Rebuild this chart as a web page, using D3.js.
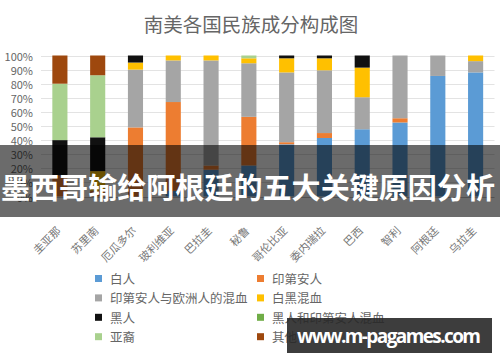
<!DOCTYPE html>
<html lang="zh">
<head>
<meta charset="utf-8">
<script src="https://cdnjs.cloudflare.com/ajax/libs/d3/7.8.5/d3.min.js"></script>
<style>
  body { margin: 0; background: #fff; }
  svg { display: block; font-family: "Noto Sans CJK SC", "Noto Sans", sans-serif; }
</style>
</head>
<body>
<svg width="500" height="362"></svg>
<script>
// countries, left to right
var countries = ["圭亚那", "苏里南", "厄瓜多尔", "玻利维亚", "巴拉圭", "秘鲁", "哥伦比亚", "委内瑞拉", "巴西", "智利", "阿根廷", "乌拉圭"];

// shares in percent, stacked bottom -> top in this order
var white   = [0, 0, 0, 4, 19, 22, 37, 41.5, 47.7, 52.5, 85.5, 88];
var indian  = [15, 4, 49, 63, 3, 34.5, 1.5, 3.5, 0, 3, 0, 0];
var mestizo = [0, 0, 41, 29.5, 74.5, 38, 49.5, 44.5, 22.7, 44.5, 14.5, 8];
var mulatto = [0, 14, 5, 3.5, 3.5, 3.5, 10, 8.5, 21, 0, 0, 4];
var black   = [25, 24, 5, 0, 0, 0, 2, 2, 8.6, 0, 0, 0];
var zambo   = [0, 0, 0, 0, 0, 0, 0, 0, 0, 0, 0, 0];
var asian   = [40, 44, 0, 0, 0, 2, 0, 0, 0, 0, 0, 0];
var other   = [20, 14, 0, 0, 0, 0, 0, 0, 0, 0, 0, 0];

var seriesNames = ["白人", "印第安人", "印第安人与欧洲人的混血", "白黑混血", "黑人", "黑人和印第安人混血", "亚裔", "其他"];
var yTicks = [0, 10, 20, 30, 40, 50, 60, 70, 80, 90, 100];

var colors = ["#5b9bd5", "#ed7d31", "#a5a5a5", "#ffc000", "#111111", "#70ad47", "#a9d18e", "#9e480e"];
var seriesData = [white, indian, mestizo, mulatto, black, zambo, asian, other];

var rows = countries.map(function(c, i) {
    var r = { country: c };
    seriesNames.forEach(function(s, j) { r[s] = seriesData[j][i]; });
    return r;
});

var svg = d3.select("svg");

var x = d3.scaleBand().domain(countries).range([41, 494.5]).paddingInner(0.6).paddingOuter(0.3);
var y = d3.scaleLinear().domain([0, 100]).range([196.5, 55.5]);

// title
svg.append("text")
    .attr("x", 251).attr("y", 23)
    .attr("text-anchor", "middle")
    .attr("dominant-baseline", "central")
    .attr("fill", "#666")
    .style("font-size", "19.5px")
    .text("南美各国民族成分构成图");

// grid + y labels
svg.append("g").selectAll("line")
    .data(yTicks).enter().append("line")
    .attr("x1", 41).attr("x2", 494.5)
    .attr("y1", function(d) { return Math.round(y(d)) + 0.5; })
    .attr("y2", function(d) { return Math.round(y(d)) + 0.5; })
    .attr("stroke", function(d) { return d === 0 ? "#bfbfbf" : "#e3e3e3"; });

svg.append("g").selectAll("text")
    .data(yTicks).enter().append("text")
    .attr("x", 33)
    .attr("y", function(d) { return y(d); })
    .attr("text-anchor", "end")
    .attr("dominant-baseline", "central")
    .attr("fill", "#666")
    .style("font-size", "11px")
    .text(function(d) { return d + "%"; });

// stacked bars
var stack = d3.stack().keys(seriesNames)(rows);

svg.append("g").selectAll("g")
    .data(stack).enter().append("g")
    .attr("fill", function(d, i) { return colors[i]; })
    .selectAll("rect")
    .data(function(d) { return d; })
    .enter().append("rect")
    .attr("x", function(d) { return x(d.data.country); })
    .attr("width", x.bandwidth())
    .attr("y", function(d) { return y(d[1]); })
    .attr("height", function(d) { return y(d[0]) - y(d[1]); });

// x labels, rotated
svg.append("g").selectAll("text")
    .data(countries).enter().append("text")
    .attr("transform", function(d) {
        return "translate(" + (x(d) + x.bandwidth() / 2 - 2) + ",228) rotate(-45)";
    })
    .attr("text-anchor", "end")
    .attr("dominant-baseline", "central")
    .attr("fill", "#777")
    .style("font-size", "11px")
    .text(function(d) { return d; });

// legend, two columns
var legend = svg.append("g").selectAll("g")
    .data(seriesNames).enter().append("g")
    .attr("transform", function(d, i) {
        var col = i % 2, row = Math.floor(i / 2);
        return "translate(" + (col ? 257 : 95) + "," + (278.5 + row * 19.4) + ")";
    });
legend.append("rect")
    .attr("x", 0).attr("y", -3.5)
    .attr("width", 7).attr("height", 7)
    .attr("fill", function(d, i) { return colors[i]; });
legend.append("text")
    .attr("x", 15).attr("y", 0)
    .attr("dominant-baseline", "central")
    .attr("fill", "#666")
    .style("font-size", "12.5px")
    .text(function(d) { return d; });

// overlay banner
svg.append("rect")
    .attr("x", 0).attr("y", 145).attr("width", 500).attr("height", 72)
    .attr("fill", "rgba(0,0,0,0.58)");
svg.append("text")
    .attr("x", 1).attr("y", 186)
    .attr("dominant-baseline", "central")
    .attr("fill", "#fff")
    .attr("font-weight", "bold")
    .attr("textLength", 494)
    .style("font-size", "29px")
    .text("墨西哥输给阿根廷的五大关键原因分析");

// watermark box
svg.append("rect")
    .attr("x", 287).attr("y", 318).attr("width", 205).attr("height", 35)
    .attr("fill", "rgba(40,40,40,0.9)");
svg.append("text")
    .attr("x", 297).attr("y", 336)
    .attr("dominant-baseline", "central")
    .attr("fill", "#fff")
    .attr("font-weight", "bold")
    .attr("textLength", 184)
    .style("font-family", "'Open Sans', 'Noto Sans', sans-serif")
    .style("font-size", "19px")
    .text("www.m-pagames.com");
</script>
</body>
</html>
